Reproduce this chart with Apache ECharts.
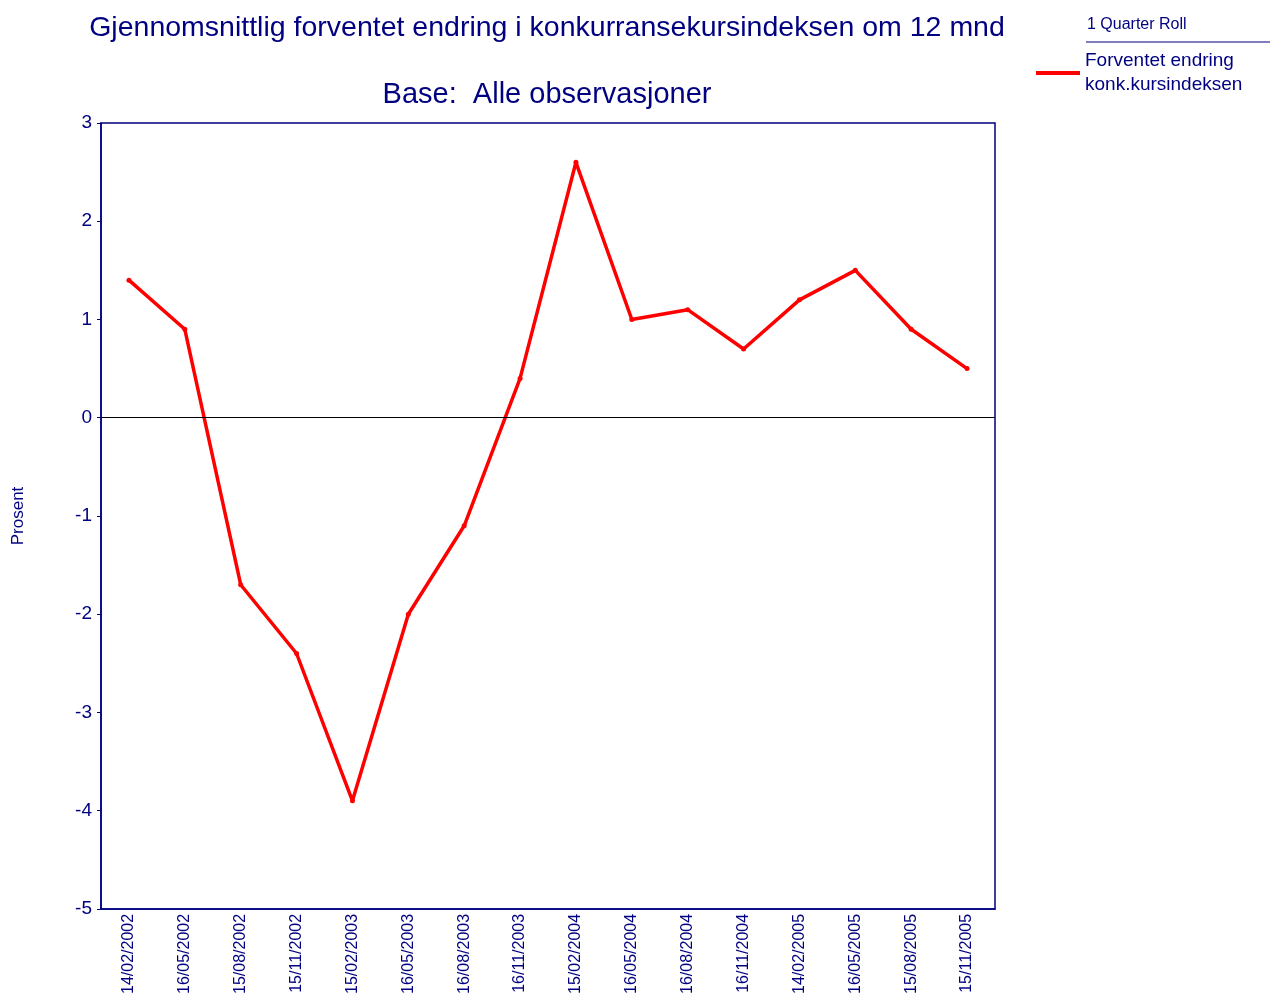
<!DOCTYPE html>
<html>
<head>
<meta charset="utf-8">
<script src="https://cdn.jsdelivr.net/npm/echarts@6/dist/echarts.min.js"></script>
<style>
  html, body { margin: 0; padding: 0; background: #fff; }
  #chart { width: 1270px; height: 997px; }
</style>
</head>
<body>
<div id="chart"></div>
<script>
var dates = ['14/02/2002', '16/05/2002', '15/08/2002', '15/11/2002', '15/02/2003', '16/05/2003',
    '16/08/2003', '16/11/2003', '15/02/2004', '16/05/2004', '16/08/2004', '16/11/2004',
    '14/02/2005', '16/05/2005', '15/08/2005', '15/11/2005'];
var values = [1.4, 0.9, -1.7, -2.4, -3.9, -2.0, -1.1, 0.4, 2.6, 1.0, 1.1, 0.7, 1.2, 1.5, 0.9, 0.5];
var seriesName = 'Forventet endring\nkonk.kursindeksen';

var navy = '#000080';
var font = 'Liberation Sans, Arial, sans-serif';

var chart = echarts.init(document.getElementById('chart'));
chart.setOption({
    animation: false,
    backgroundColor: '#fff',
    textStyle: { fontFamily: font },
    title: [{
        text: 'Gjennomsnittlig forventet endring i konkurransekursindeksen om 12 mnd',
        left: 542, top: 9, textAlign: 'center',
        textStyle: { color: navy, fontSize: 28.5, fontWeight: 'normal', fontFamily: font }
    }, {
        text: 'Base:  Alle observasjoner',
        left: 542, top: 75, textAlign: 'center',
        textStyle: { color: navy, fontSize: 29, fontWeight: 'normal', fontFamily: font }
    }],
    legend: {
        left: 1031, top: 44,
        orient: 'vertical',
        itemWidth: 44, itemHeight: 4, itemGap: 6,
        icon: 'rect',
        textStyle: { color: navy, fontSize: 19, lineHeight: 24, fontFamily: font },
        data: [{ name: seriesName, itemStyle: { color: '#ff0000' } }]
    },
    graphic: [{
        type: 'text', left: 1087, top: 17,
        style: { text: '1 Quarter Roll', fill: navy, fontSize: 16, fontFamily: font }
    }, {
        type: 'line',
        shape: { x1: 1086, y1: 42, x2: 1270, y2: 42 },
        style: { stroke: navy, lineWidth: 1.2 }
    }],
    grid: { left: 101, top: 123, width: 894, height: 787, show: true, borderColor: navy, borderWidth: 1.5 },
    xAxis: {
        type: 'category',
        data: dates,
        boundaryGap: true,
        axisLine: { onZero: false, lineStyle: { color: navy, width: 1.5 } },
        axisTick: { alignWithLabel: true, length: 4, lineStyle: { color: navy } },
        axisLabel: { rotate: 90, color: navy, fontSize: 16, margin: 5, interval: 0, fontFamily: font },
        splitLine: { show: false }
    },
    yAxis: {
        type: 'value',
        min: -5, max: 3, interval: 1,
        name: 'Prosent',
        nameLocation: 'middle',
        nameGap: 74,
        nameTextStyle: { color: navy, fontSize: 17, fontFamily: font },
        axisLine: { show: true, lineStyle: { color: navy, width: 1.5 } },
        axisTick: { show: true, length: 4, lineStyle: { color: navy } },
        axisLabel: { color: navy, fontSize: 19, margin: 9, fontFamily: font },
        splitLine: { show: false }
    },
    series: [{
        name: seriesName,
        type: 'line',
        data: values,
        symbol: 'circle',
        symbolSize: 5,
        itemStyle: { color: '#ff0000' },
        lineStyle: { color: '#ff0000', width: 3.5 },
        markLine: {
            silent: true,
            symbol: 'none',
            label: { show: false },
            lineStyle: { color: '#000', width: 1, type: 'solid' },
            data: [{ yAxis: 0 }]
        }
    }]
});
</script>
</body>
</html>
